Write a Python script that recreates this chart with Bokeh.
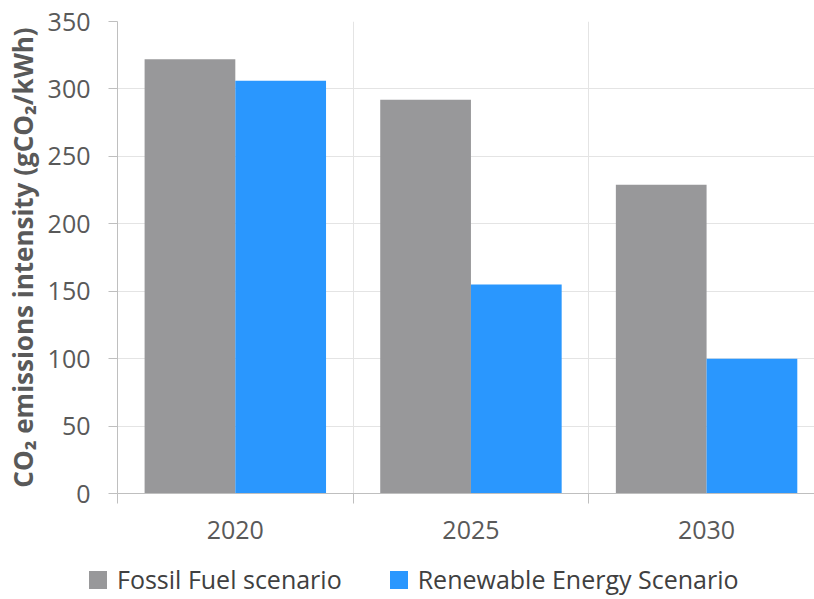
from bokeh.plotting import figure
from bokeh.layouts import column
from bokeh.models import (Range1d, FixedTicker, ColumnDataSource, Div)
from bokeh.transform import dodge
from bokeh.embed import file_html
from bokeh.resources import INLINE

# Grid-electricity CO2 intensity by scenario
years = ["2020", "2025", "2030"]
fossil = [322, 292, 229]
renewable = [306, 155, 100]
series_names = ["Fossil Fuel scenario", "Renewable Energy Scenario"]
y_ticks = [0, 50, 100, 150, 200, 250, 300, 350]

FOSSIL_COLOR = "#98989a"
RENEW_COLOR = "#2a97fe"
AXIS_COLOR = "#bfbfbf"
GRID_COLOR = "#e4e4e4"
TEXT_COLOR = "#595959"
FONT = "Open Sans"

# one unit per year on a numeric axis; bars sit either side of the centre
centers = [i + 0.5 for i in range(len(years))]
bounds = list(range(len(years) + 1))
source = ColumnDataSource(dict(x=centers, year=years, fossil=fossil, renewable=renewable))

p = figure(width=814, height=560, output_backend="svg", toolbar_location=None,
           x_range=Range1d(0, 2.958), y_range=Range1d(0, 350),
           min_border_left=117, min_border_right=0, min_border_top=21,
           min_border_bottom=67)
p.outline_line_color = None
p.background_fill_color = "white"
p.border_fill_color = "white"

BAR_W = 0.385
p.vbar(x=dodge("x", -BAR_W / 2, range=p.x_range), top="fossil", width=BAR_W,
       source=source, fill_color=FOSSIL_COLOR, line_color=None)
p.vbar(x=dodge("x", BAR_W / 2, range=p.x_range), top="renewable", width=BAR_W,
       source=source, fill_color=RENEW_COLOR, line_color=None)

# x axis: labels at category centres, tick marks at category boundaries
p.xaxis.ticker = FixedTicker(ticks=centers, minor_ticks=bounds)
p.xaxis.major_label_overrides = {c: y for c, y in zip(centers, years)}
p.xaxis.major_tick_out = 0
p.xaxis.major_tick_in = 0
p.xaxis.minor_tick_out = 10
p.xaxis.minor_tick_in = 0
p.xaxis.minor_tick_line_color = AXIS_COLOR
p.xaxis.axis_line_color = AXIS_COLOR
p.xaxis.major_label_standoff = 17
p.xaxis.major_label_text_font = FONT
p.xaxis.major_label_text_font_size = "25px"
p.xaxis.major_label_text_color = TEXT_COLOR

p.yaxis.ticker = FixedTicker(ticks=y_ticks, minor_ticks=[])
p.yaxis.major_tick_out = 9
p.yaxis.major_tick_in = 0
p.yaxis.major_tick_line_color = AXIS_COLOR
p.yaxis.axis_line_color = AXIS_COLOR
p.yaxis.major_label_standoff = 18
p.yaxis.major_label_text_font = FONT
p.yaxis.major_label_text_font_size = "25px"
p.yaxis.major_label_text_color = TEXT_COLOR
p.yaxis.axis_label = "CO\u2082 emissions intensity (gCO\u2082/kWh)"
p.yaxis.axis_label_text_font = FONT
p.yaxis.axis_label_text_font_style = "bold"
p.yaxis.axis_label_text_font_size = "26px"
p.yaxis.axis_label_text_color = TEXT_COLOR
p.yaxis.axis_label_standoff = 4

p.xgrid.ticker = FixedTicker(ticks=bounds)
p.xgrid.grid_line_color = GRID_COLOR
p.ygrid.ticker = FixedTicker(ticks=y_ticks)
p.ygrid.grid_line_color = GRID_COLOR

# legend strip underneath the chart, one colour swatch per series
swatch = ('<span style="display:inline-block;width:18px;height:18px;'
          'background:{color};margin:0 10px 0 {gap}px;"></span>')
entries = "".join(
    swatch.format(color=color, gap=gap) + "<span>{}</span>".format(name)
    for name, color, gap in zip(series_names, [FOSSIL_COLOR, RENEW_COLOR], [89, 48])
)
key = Div(
    text=('<div style="display:flex;align-items:center;height:39px;white-space:nowrap;'
          "font-family:'Open Sans';font-size:25px;color:#404040;\">" + entries + "</div>"),
    width=814, height=39, margin=0,
)

open("out.html", "w").write(file_html(column(p, key, spacing=0), INLINE))
